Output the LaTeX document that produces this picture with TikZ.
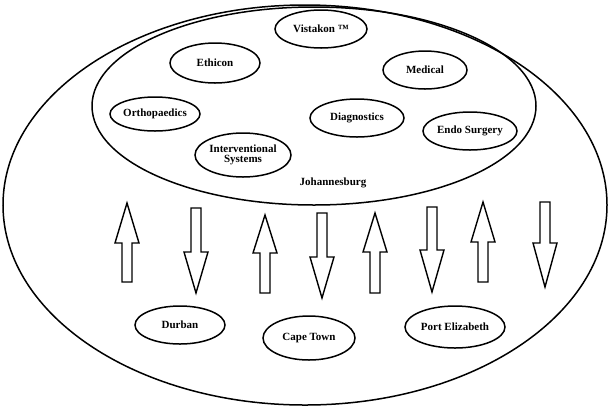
\documentclass[tikz,border=0pt]{standalone}
\usepackage{fontspec}
\setmainfont{Liberation Serif}
\usetikzlibrary{shapes.geometric}
\begin{document}
\begin{tikzpicture}[x=1pt,y=-1pt,
  ring/.style={draw=black,line width=1.5pt},
  unit/.style={ellipse,draw=black,line width=1.5pt,inner sep=0pt,
    font=\fontsize{11}{10}\selectfont\bfseries,align=center},
  flow/.style={draw=black,line width=1.4pt,fill=white,line join=miter},
  lbl/.style={font=\fontsize{11}{10}\selectfont\bfseries}]
\useasboundingbox (0,0) rectangle (609,408);

% country-wide and head-office regions
\draw[ring] (305,205) ellipse [x radius=302, y radius=200];
\draw[ring] (314,106) ellipse [x radius=222, y radius=99];

% business units at head office
\node[unit,minimum width=92pt,minimum height=38pt] (vis) at (321,29) {Vistakon \texttrademark};
\node[unit,minimum width=90pt,minimum height=40pt] (eth) at (215,63) {Ethicon};
\node[unit,minimum width=84pt,minimum height=38pt] (med) at (425,70) {Medical};
\node[unit,minimum width=90pt,minimum height=34pt] (ort) at (155,114) {Orthopaedics};
\node[unit,minimum width=94pt,minimum height=38pt] (dia) at (357,118) {Diagnostics};
\node[unit,minimum width=94pt,minimum height=38pt] (endo) at (470,131) {Endo Surgery};
\node[unit,minimum width=96pt,minimum height=44pt] (ivs) at (243,155) {Interventional\\Systems};
\node[lbl] (jhb) at (333,183) {Johannesburg};

% regional offices
\node[unit,minimum width=90pt,minimum height=38pt] (dbn) at (180,325) {Durban};
\node[unit,minimum width=92pt,minimum height=44pt] (cpt) at (309,338) {Cape Town};
\node[unit,minimum width=100pt,minimum height=42pt] (pe) at (455,327) {Port Elizabeth};

% upward block arrows: centre x, tip, head base, tail
\foreach \cx/\tp/\hb/\bt in {127/203/243/282, 265/215/253/293, 375/213/252/293, 483/202/242/282}{
  \draw[flow] (\cx-5,\bt) -- (\cx-5,\hb) -- (\cx-12,\hb) -- (\cx,\tp) -- (\cx+12,\hb)
     -- (\cx+5,\hb) -- (\cx+5,\bt) -- cycle;
}
% downward block arrows: centre x, tail, head base, tip
\foreach \cx/\tp/\hb/\bt in {196/208/252/293, 322/213/257/298, 432/207/250/292, 545/202/243/287}{
  \draw[flow] (\cx-5,\tp) -- (\cx-5,\hb) -- (\cx-12,\hb) -- (\cx,\bt) -- (\cx+12,\hb)
     -- (\cx+5,\hb) -- (\cx+5,\tp) -- cycle;
}
\end{tikzpicture}
\end{document}
